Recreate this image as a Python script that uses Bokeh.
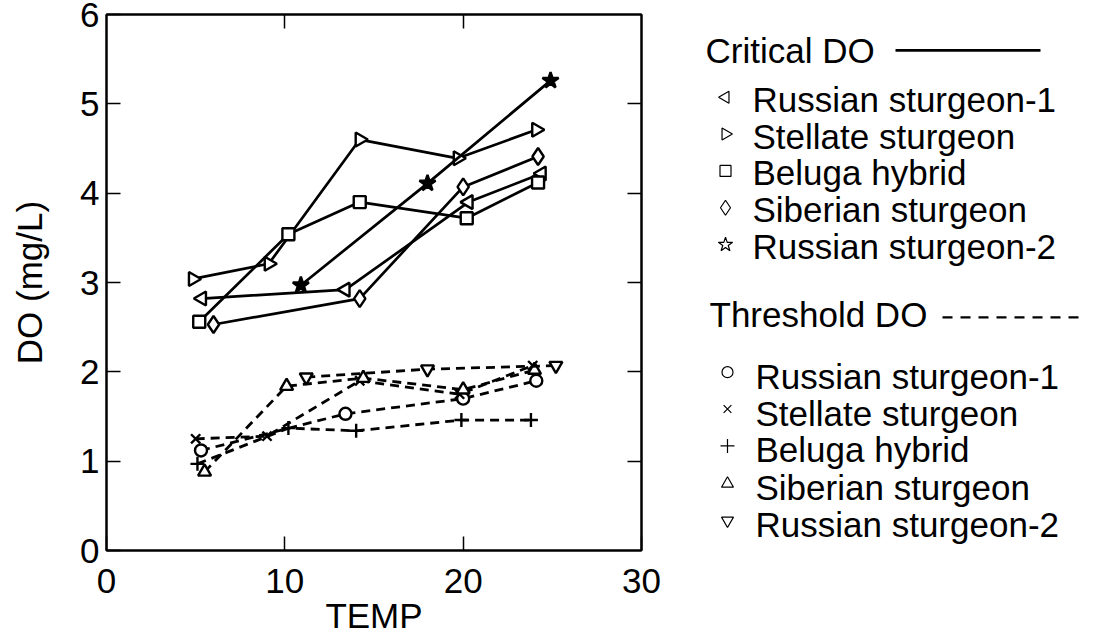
import math
from bokeh.plotting import figure
from bokeh.layouts import row
from bokeh.models import Range1d, LinearAxis, FixedTicker
from bokeh.embed import file_html
from bokeh.resources import INLINE
from bokeh.core.properties import value

FONT = "Liberation Sans"

# ---------------- data ----------------
species = ["Russian sturgeon-1", "Stellate sturgeon", "Beluga hybrid",
           "Siberian sturgeon", "Russian sturgeon-2"]

# Critical DO (solid lines)
crit_r1_temp = [5.35, 13.4, 20.3, 24.4]
crit_r1_do = [2.82, 2.92, 3.90, 4.22]
crit_st_temp = [4.85, 9.1, 14.2, 19.7, 24.1]
crit_st_do = [3.04, 3.21, 4.60, 4.39, 4.71]
crit_be_temp = [5.2, 10.2, 14.2, 20.2, 24.2]
crit_be_do = [2.56, 3.54, 3.90, 3.72, 4.12]
crit_si_temp = [6.0, 14.2, 20.0, 24.2]
crit_si_do = [2.53, 2.82, 4.07, 4.41]
crit_r2_temp = [10.9, 18.0, 24.9]
crit_r2_do = [2.97, 4.11, 5.26]

# Threshold DO (dashed lines)
thr_r1_temp = [5.3, 13.4, 20.0, 24.1]
thr_r1_do = [1.12, 1.53, 1.70, 1.90]
thr_st_temp = [5.0, 9.0, 14.2, 19.8, 23.9]
thr_st_do = [1.25, 1.28, 1.90, 1.75, 2.07]
thr_be_temp = [5.1, 10.2, 14.0, 19.9, 23.8]
thr_be_do = [0.97, 1.37, 1.34, 1.46, 1.46]
thr_si_temp = [5.5, 10.1, 14.4, 20.0, 24.0]
thr_si_do = [0.88, 1.84, 1.93, 1.80, 2.02]
thr_r2_temp = [11.2, 18.0, 25.2]
thr_r2_do = [1.94, 2.03, 2.07]

x_ticks = [0, 10, 20, 30]
y_ticks = [0, 1, 2, 3, 4, 5, 6]

crit_series = [
    (crit_r1_temp, crit_r1_do, "triangle", math.pi / 2, 14, "white"),
    (crit_st_temp, crit_st_do, "triangle", -math.pi / 2, 14, "white"),
    (crit_be_temp, crit_be_do, "square", 0, 12, "white"),
    (crit_si_temp, crit_si_do, "diamond", 0, 17, "white"),
    (crit_r2_temp, crit_r2_do, "star", 0, 17, "black"),
]
thr_series = [
    (thr_r1_temp, thr_r1_do, "circle", 0, 12),
    (thr_st_temp, thr_st_do, "x", 0, 13),
    (thr_be_temp, thr_be_do, "cross", 0, 14),
    (thr_si_temp, thr_si_do, "triangle", 0, 13),
    (thr_r2_temp, thr_r2_do, "inverted_triangle", 0, 13),
]

# ---------------- main plot ----------------
W_MAIN, H = 668, 637
B_TOP, B_BOT = 14, 85
p = figure(width=W_MAIN, height=H, x_range=Range1d(0, 30), y_range=Range1d(0, 6),
           output_backend="svg", toolbar_location=None,
           min_border_left=106, min_border_right=27, min_border_top=B_TOP,
           min_border_bottom=B_BOT)
p.background_fill_color = "white"
p.border_fill_color = "white"
p.outline_line_color = "black"
p.outline_line_width = 2
p.xgrid.visible = False
p.ygrid.visible = False

for ax in (p.xaxis[0], p.yaxis[0]):
    ax.major_tick_in = 14
    ax.major_tick_out = 0
    ax.minor_tick_line_color = None
    ax.major_tick_line_width = 1.5
    ax.axis_line_width = 2
    ax.major_label_text_font = FONT
    ax.major_label_text_font_size = "35px"
    ax.major_label_text_color = "black"
    ax.axis_label_text_font = FONT
    ax.axis_label_text_font_size = "35px"
    ax.axis_label_text_font_style = "normal"
    ax.axis_label_text_color = "black"

p.xaxis.ticker = FixedTicker(ticks=x_ticks)
p.yaxis.ticker = FixedTicker(ticks=y_ticks)
p.xaxis.axis_label = "TEMP"
p.yaxis.axis_label = "DO (mg/L)"
p.xaxis.major_label_standoff = 18
p.yaxis.major_label_standoff = 7
p.xaxis.axis_label_standoff = 0
p.yaxis.axis_label_standoff = 28

top_ax = LinearAxis(ticker=FixedTicker(ticks=x_ticks[1:-1]),
                    major_label_overrides={t: "" for t in x_ticks},
                    major_tick_in=14, major_tick_out=0, major_label_standoff=0,
                    major_tick_line_width=1.5, axis_line_width=2,
                    minor_tick_line_color=None, major_label_text_font_size="1px")
right_ax = LinearAxis(ticker=FixedTicker(ticks=y_ticks[1:-1]),
                      major_label_overrides={t: "" for t in y_ticks},
                      major_tick_in=14, major_tick_out=0, major_label_standoff=0,
                      major_tick_line_width=1.5, axis_line_width=2,
                      minor_tick_line_color=None, major_label_text_font_size="1px")
p.add_layout(top_ax, "above")
p.add_layout(right_ax, "right")

for t, d, mk, ang, sz, fc in crit_series:
    p.line(t, d, line_color="black", line_width=2.7)
    p.scatter(t, d, marker=mk, angle=ang, size=sz, line_color="black",
              line_width=2.4, fill_color=fc)

for t, d, mk, ang, sz in thr_series:
    p.line(t, d, line_color="black", line_width=2.8, line_dash="9 6")
    p.scatter(t, d, marker=mk, angle=ang, size=sz, line_color="black",
              line_width=2.4, fill_color="white")

# ---------------- legend panel ----------------
# The legend panel's frame shares the main frame's vertical extent, and its
# y range is expressed in page pixels (top -> bottom) so that placement is 1:1.
W_LEG = 418
leg = figure(width=W_LEG, height=H, x_range=Range1d(0, W_LEG),
             y_range=Range1d(H - B_BOT, B_TOP),
             output_backend="svg", toolbar_location=None,
             x_axis_type=None, y_axis_type=None,
             min_border_left=0, min_border_right=0,
             min_border_top=B_TOP, min_border_bottom=B_BOT)
leg.outline_line_color = None
leg.xgrid.visible = False
leg.ygrid.visible = False
leg.background_fill_color = "white"
leg.border_fill_color = "white"

txt = dict(text_font=value(FONT), text_font_size="35px", text_color="black",
           text_baseline="alphabetic", text_align="left")
TXT_SHIFT = 13  # observed downward offset of rendered text baselines

# headers
leg.text(x=[37], y=[63 - TXT_SHIFT], text=["Critical DO"], **txt)
leg.line(x=[227, 372], y=[50, 50], line_color="black", line_width=2.6)
leg.text(x=[41], y=[328 - TXT_SHIFT], text=["Threshold DO"], **txt)
leg.line(x=[274, 415], y=[318, 318], line_color="black", line_width=2.4, line_dash="10 8")

crit_base = [112, 149, 186, 223, 260]
thr_base = [390, 427, 464, 502, 539]
leg_markers_crit = [("triangle", math.pi / 2), ("triangle", -math.pi / 2), ("square", 0),
                    ("diamond", 0), ("star", 0)]
leg_markers_thr = [("circle", 0), ("x", 0), ("cross", 0), ("triangle", 0),
                   ("inverted_triangle", 0)]
leg_sizes = {"triangle": 12, "square": 11, "diamond": 15, "star": 15, "circle": 11,
             "x": 11, "cross": 14, "inverted_triangle": 12}

for name, yb, (mk, ang) in zip(species, crit_base, leg_markers_crit):
    leg.scatter([57], [yb - 15], marker=mk, angle=ang, size=leg_sizes[mk],
                line_color="black", line_width=1.2, fill_color=None)
    leg.text(x=[84], y=[yb - TXT_SHIFT], text=[name], **txt)

for name, yb, (mk, ang) in zip(species, thr_base, leg_markers_thr):
    leg.scatter([59], [yb - 17], marker=mk, angle=ang, size=leg_sizes[mk],
                line_color="black", line_width=1.2, fill_color=None)
    leg.text(x=[87], y=[yb - TXT_SHIFT], text=[name], **txt)

layout = row(p, leg)
open("out.html", "w").write(file_html(layout, INLINE))
